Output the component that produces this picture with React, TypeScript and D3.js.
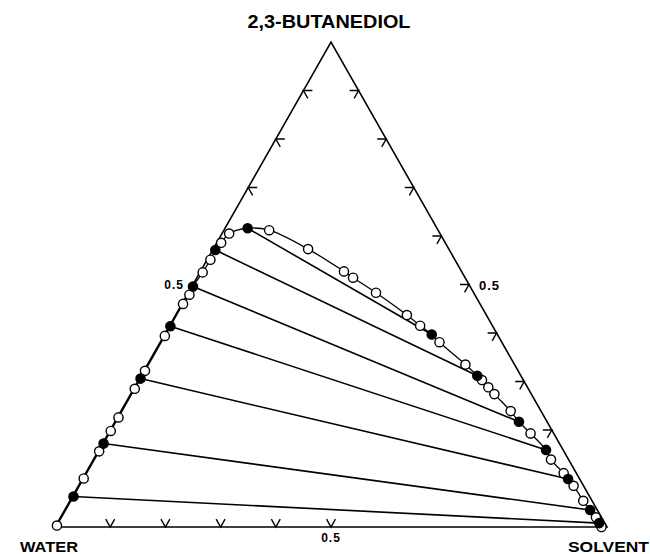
import React from "react";
import * as d3 from "d3";

// Ternary diagram: water / 2,3-butanediol / solvent (mass fractions)
// Each composition is given as (solvent fraction, butanediol fraction).

// Binodal curve, open circles
const binodalSolvent = [
  0.002, 0.002, 0.002, 0.002, 0.002, 0.002, 0.002, 0.002, 0.002, 0.004, 0.005, 0.006, 0.008, 0.013,
  0.082, 0.172, 0.26, 0.283, 0.34, 0.419, 0.454, 0.506, 0.576, 0.622, 0.641, 0.659, 0.706, 0.765,
  0.829, 0.866, 0.897, 0.93, 0.97, 0.99,
];
const binodalDiol = [
  0.003, 0.1, 0.156, 0.198, 0.226, 0.285, 0.322, 0.394, 0.46, 0.479, 0.525, 0.551, 0.586, 0.605,
  0.612, 0.573, 0.527, 0.514, 0.483, 0.437, 0.415, 0.381, 0.335, 0.303, 0.288, 0.274, 0.239, 0.193,
  0.139, 0.111, 0.085, 0.054, 0.02, 0.0,
];

// Tie lines, filled circles at both ends
const waterPhaseSolvent = [0.041, 0.005, 0.002, 0.002, 0.002, 0.002, 0.002];
const waterPhaseDiol = [0.616, 0.571, 0.496, 0.414, 0.306, 0.172, 0.063];
const solventPhaseSolvent = [0.484, 0.609, 0.732, 0.81, 0.88, 0.952, 0.982];
const solventPhaseDiol = [0.397, 0.312, 0.217, 0.159, 0.099, 0.035, 0.008];

// Axis ticks
const bottomTicks = [0.1, 0.2, 0.3, 0.4, 0.5];
const leftTicks = [0.7, 0.8, 0.9];
const rightTicks = [0.2, 0.3, 0.4, 0.5, 0.6, 0.7, 0.8, 0.9];
const tickLabel = "0.5";

const vertexLabels = { top: "2,3-BUTANEDIOL", left: "WATER", right: "SOLVENT" };

const WIDTH = 650;
const HEIGHT = 554;

// Triangle corners
const Wv: [number, number] = [55, 527];
const Sv: [number, number] = [607, 527];
const Bv: [number, number] = [331, 42];

const sx = d3.scaleLinear().domain([0, 1]).range([0, Sv[0] - Wv[0]]);
const sy = d3.scaleLinear().domain([0, 1]).range([0, Sv[1] - Wv[1]]);
const bx = d3.scaleLinear().domain([0, 1]).range([0, Bv[0] - Wv[0]]);
const by = d3.scaleLinear().domain([0, 1]).range([0, Bv[1] - Wv[1]]);

const pos = (s: number, b: number): [number, number] => [
  Wv[0] + sx(s) + bx(b),
  Wv[1] + sy(s) + by(b),
];

const FONT = "'Liberation Sans', Arial, sans-serif";
const TICK = 9;
const R = 4.6;

type Pt = { s: number; b: number; filled: boolean };

export default function App() {
  const open: Pt[] = binodalSolvent.map((s, i) => ({ s, b: binodalDiol[i], filled: false }));
  const waterEnds: Pt[] = waterPhaseSolvent.map((s, i) => ({ s, b: waterPhaseDiol[i], filled: true }));
  const solventEnds: Pt[] = solventPhaseSolvent.map((s, i) => ({ s, b: solventPhaseDiol[i], filled: true }));
  const all = [...open, ...waterEnds, ...solventEnds];

  // order points along the curve: water-rich branch upward, solvent-rich branch downward
  const leftBranch = all.filter((p) => p.s < 0.06).sort((a, c) => a.b - c.b);
  const rightBranch = all.filter((p) => p.s >= 0.06).sort((a, c) => c.b - a.b);
  const curvePts = [...leftBranch, ...rightBranch].map((p) => pos(p.s, p.b));
  const curvePath = d3.line().curve(d3.curveCatmullRom.alpha(0.5))(curvePts) || "";

  const triPath = d3.line()([Wv, Sv, Bv, Wv]) + "Z";

  const unit = (a: [number, number], c: [number, number]) => {
    const dx = c[0] - a[0];
    const dy = c[1] - a[1];
    const l = Math.hypot(dx, dy);
    return [dx / l, dy / l];
  };
  const dWB = unit(Wv, Bv);
  const dSB = unit(Sv, Bv);
  const dBW = unit(Bv, Wv);
  const dBS = unit(Bv, Sv);

  const chevron = (p: [number, number], d1: number[], d2: number[]) =>
    `M${p[0] + d1[0] * TICK},${p[1] + d1[1] * TICK}L${p[0]},${p[1]}L${p[0] + d2[0] * TICK},${p[1] + d2[1] * TICK}`;

  const ticks: string[] = [];
  bottomTicks.forEach((t) => ticks.push(chevron(pos(t, 0), dWB, dSB)));
  leftTicks.forEach((t) => ticks.push(chevron(pos(0, t), [1, 0], dBS)));
  rightTicks.forEach((t) => ticks.push(chevron(pos(1 - t, t), [-1, 0], dBW)));

  const leftMid = pos(0, 0.5);
  const rightMid = pos(0.5, 0.5);
  const bottomMid = pos(0.5, 0);

  return (
    <svg
      width={WIDTH}
      height={HEIGHT}
      style={{ position: "fixed", left: 0, top: 0, background: "#fff" }}
    >
      <rect width={WIDTH} height={HEIGHT} fill="#fff" />
      <path d={triPath} fill="none" stroke="#000" strokeWidth={1.6} strokeLinejoin="miter" />
      {ticks.map((d, i) => (
        <path key={i} d={d} fill="none" stroke="#000" strokeWidth={1.4} />
      ))}
      {waterEnds.map((p, i) => {
        const a = pos(p.s, p.b);
        const c = pos(solventEnds[i].s, solventEnds[i].b);
        return <line key={i} x1={a[0]} y1={a[1]} x2={c[0]} y2={c[1]} stroke="#000" strokeWidth={1.6} />;
      })}
      <path d={curvePath} fill="none" stroke="#000" strokeWidth={1.3} />
      {open.map((p, i) => {
        const [x, y] = pos(p.s, p.b);
        return <circle key={"o" + i} cx={x} cy={y} r={R} fill="#fff" stroke="#000" strokeWidth={1.4} />;
      })}
      {[...waterEnds, ...solventEnds].map((p, i) => {
        const [x, y] = pos(p.s, p.b);
        return <circle key={"f" + i} cx={x} cy={y} r={R} fill="#000" stroke="#000" strokeWidth={1.4} />;
      })}
      <g fontFamily={FONT} fill="#000" fontWeight="bold">
        <text x={329} y={28} fontSize={18} textAnchor="middle" textLength={163} lengthAdjust="spacingAndGlyphs">
          {vertexLabels.top}
        </text>
        <text x={20} y={552} fontSize={15} textLength={58} lengthAdjust="spacingAndGlyphs">
          {vertexLabels.left}
        </text>
        <text x={568} y={552} fontSize={15} textLength={81} lengthAdjust="spacingAndGlyphs">
          {vertexLabels.right}
        </text>
        <text x={leftMid[0] - 9} y={leftMid[1] + 4} fontSize={12} textAnchor="end" letterSpacing={1}>
          {tickLabel}
        </text>
        <text x={rightMid[0] + 10} y={rightMid[1] + 5} fontSize={13} letterSpacing={1}>
          {tickLabel}
        </text>
        <text x={bottomMid[0]} y={bottomMid[1] + 15} fontSize={12} textAnchor="middle" letterSpacing={1}>
          {tickLabel}
        </text>
      </g>
    </svg>
  );
}
